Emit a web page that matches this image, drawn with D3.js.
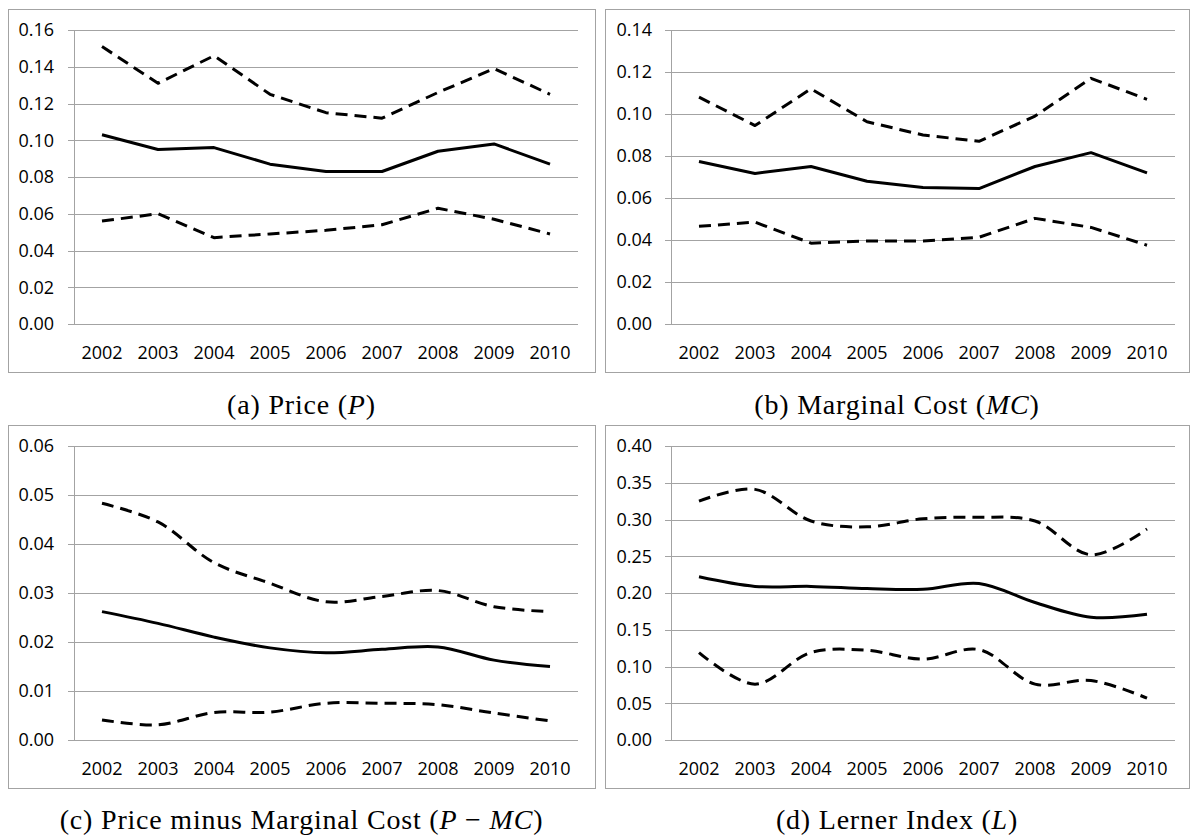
<!DOCTYPE html>
<html>
<head>
<meta charset="utf-8">
<script src="https://cdn.jsdelivr.net/npm/d3@7"></script>
<style>
    body { margin: 0; background: #fff; }
    .tick text { font-family: "Open Sans", sans-serif; font-size: 18px; fill: #000; }
    .caption { font-family: "Liberation Serif", serif; font-size: 28px; letter-spacing: 0.8px; fill: #000; }
</style>
</head>
<body>
<div class="charts"></div>
<script>
const years = ["2002", "2003", "2004", "2005", "2006", "2007", "2008", "2009", "2010"];

// (a) price
const priceHigh = [0.151, 0.131, 0.146, 0.125, 0.115, 0.112, 0.126, 0.139, 0.125];
const priceMid  = [0.103, 0.095, 0.096, 0.087, 0.083, 0.083, 0.094, 0.098, 0.087];
const priceLow  = [0.056, 0.060, 0.047, 0.049, 0.051, 0.054, 0.063, 0.057, 0.049];
const priceTicks = [0, 0.02, 0.04, 0.06, 0.08, 0.10, 0.12, 0.14, 0.16];

// (b) marginal cost
const mcHigh = [0.108, 0.0945, 0.112, 0.0963, 0.090, 0.087, 0.099, 0.117, 0.107];
const mcMid  = [0.0774, 0.0717, 0.075, 0.068, 0.065, 0.0645, 0.075, 0.0816, 0.072];
const mcLow  = [0.0465, 0.0485, 0.0385, 0.0395, 0.0395, 0.0413, 0.0503, 0.046, 0.0375];
const mcTicks = [0, 0.02, 0.04, 0.06, 0.08, 0.10, 0.12, 0.14];

// (c) price minus marginal cost
const pmcHigh = [0.0483, 0.0445, 0.0362, 0.032, 0.0282, 0.0293, 0.0305, 0.0272, 0.0262];
const pmcMid  = [0.0262, 0.0238, 0.021, 0.0188, 0.0178, 0.0185, 0.019, 0.0163, 0.015];
const pmcLow  = [0.0041, 0.0031, 0.0056, 0.0057, 0.0075, 0.0075, 0.0072, 0.0055, 0.0039];
const pmcTicks = [0, 0.01, 0.02, 0.03, 0.04, 0.05, 0.06];

// (d) lerner index
const lernerHigh = [0.325, 0.341, 0.298, 0.290, 0.301, 0.303, 0.298, 0.252, 0.287];
const lernerMid  = [0.222, 0.209, 0.209, 0.206, 0.205, 0.213, 0.187, 0.167, 0.171];
const lernerLow  = [0.119, 0.076, 0.119, 0.122, 0.110, 0.123, 0.076, 0.081, 0.057];
const lernerTicks = [0, 0.05, 0.10, 0.15, 0.20, 0.25, 0.30, 0.35, 0.40];

const panels = [
    { high: priceHigh, mid: priceMid, low: priceLow, ticks: priceTicks, smooth: false, col: 0, row: 0,
      caption: [["(a) Price (", false], ["P", true], [")", false]] },
    { high: mcHigh, mid: mcMid, low: mcLow, ticks: mcTicks, smooth: false, col: 1, row: 0,
      caption: [["(b) Marginal Cost (", false], ["MC", true], [")", false]] },
    { high: pmcHigh, mid: pmcMid, low: pmcLow, ticks: pmcTicks, smooth: true, col: 0, row: 1,
      caption: [["(c) Price minus Marginal Cost (", false], ["P", true], [" \u2212 ", false], ["MC", true], [")", false]] },
    { high: lernerHigh, mid: lernerMid, low: lernerLow, ticks: lernerTicks, smooth: true, col: 1, row: 1,
      caption: [["(d) Lerner Index (", false], ["L", true], [")", false]] }
];

const boxX = [8, 605];
const boxW = [587, 584];
const boxY = [9, 425];
const boxH = 363;
const captionY = [414, 829];
const margin = { top: 21, left: 66 };
const width = 504;
const height = 294;
const grey = "#a3a3a3";

const svg = d3.select(".charts")
    .append("svg")
    .attr("width", 1190)
    .attr("height", 840);

panels.forEach(p => {
    const bx = boxX[p.col], by = boxY[p.row];

    // chart area border
    svg.append("rect")
        .attr("x", bx + 0.5)
        .attr("y", by + 0.5)
        .attr("width", boxW[p.col])
        .attr("height", boxH)
        .attr("fill", "none")
        .attr("stroke", grey);

    const g = svg.append("g")
        .attr("transform", `translate(${bx + margin.left}, ${by + margin.top})`);

    const xScale = d3.scaleBand().domain(years).range([0, width]);
    const yScale = d3.scaleLinear()
        .domain([0, p.ticks[p.ticks.length - 1]])
        .range([height, 0]);

    const yAxis = d3.axisLeft(yScale)
        .tickValues(p.ticks)
        .tickFormat(d3.format(".2f"))
        .tickSizeInner(-width)
        .tickSizeOuter(0)
        .tickPadding(p.col === 0 ? 20 : 19);

    const ya = g.append("g")
        .attr("class", "y-axis")
        .call(yAxis);
    ya.select(".domain").attr("stroke", grey).attr("shape-rendering", "crispEdges");
    ya.selectAll(".tick line")
        .attr("x1", -6)
        .attr("stroke", grey)
        .attr("shape-rendering", "crispEdges");

    const xAxis = d3.axisBottom(xScale)
        .tickSize(0)
        .tickPadding(22);

    const xa = g.append("g")
        .attr("class", "x-axis")
        .attr("transform", `translate(0, ${height})`)
        .call(xAxis);
    xa.select(".domain").remove();

    const line = d3.line()
        .x((d, i) => xScale(years[i]) + xScale.bandwidth() / 2)
        .y(d => yScale(d))
        .curve(p.smooth ? d3.curveCatmullRom.alpha(0.5) : d3.curveLinear);

    [[p.high, true], [p.low, true], [p.mid, false]].forEach(([values, dashed]) => {
        g.append("path")
            .datum(values)
            .attr("d", line)
            .attr("fill", "none")
            .attr("stroke", "#000")
            .attr("stroke-width", 3)
            .attr("stroke-linejoin", "round")
            .attr("stroke-dasharray", dashed ? "12,7" : null);
    });

    const cap = svg.append("text")
        .attr("class", "caption")
        .attr("x", bx + boxW[p.col] / 2)
        .attr("y", captionY[p.row])
        .attr("text-anchor", "middle");
    p.caption.forEach(([t, it]) => {
        cap.append("tspan")
            .attr("font-style", it ? "italic" : null)
            .text(t);
    });
});
</script>
</body>
</html>
